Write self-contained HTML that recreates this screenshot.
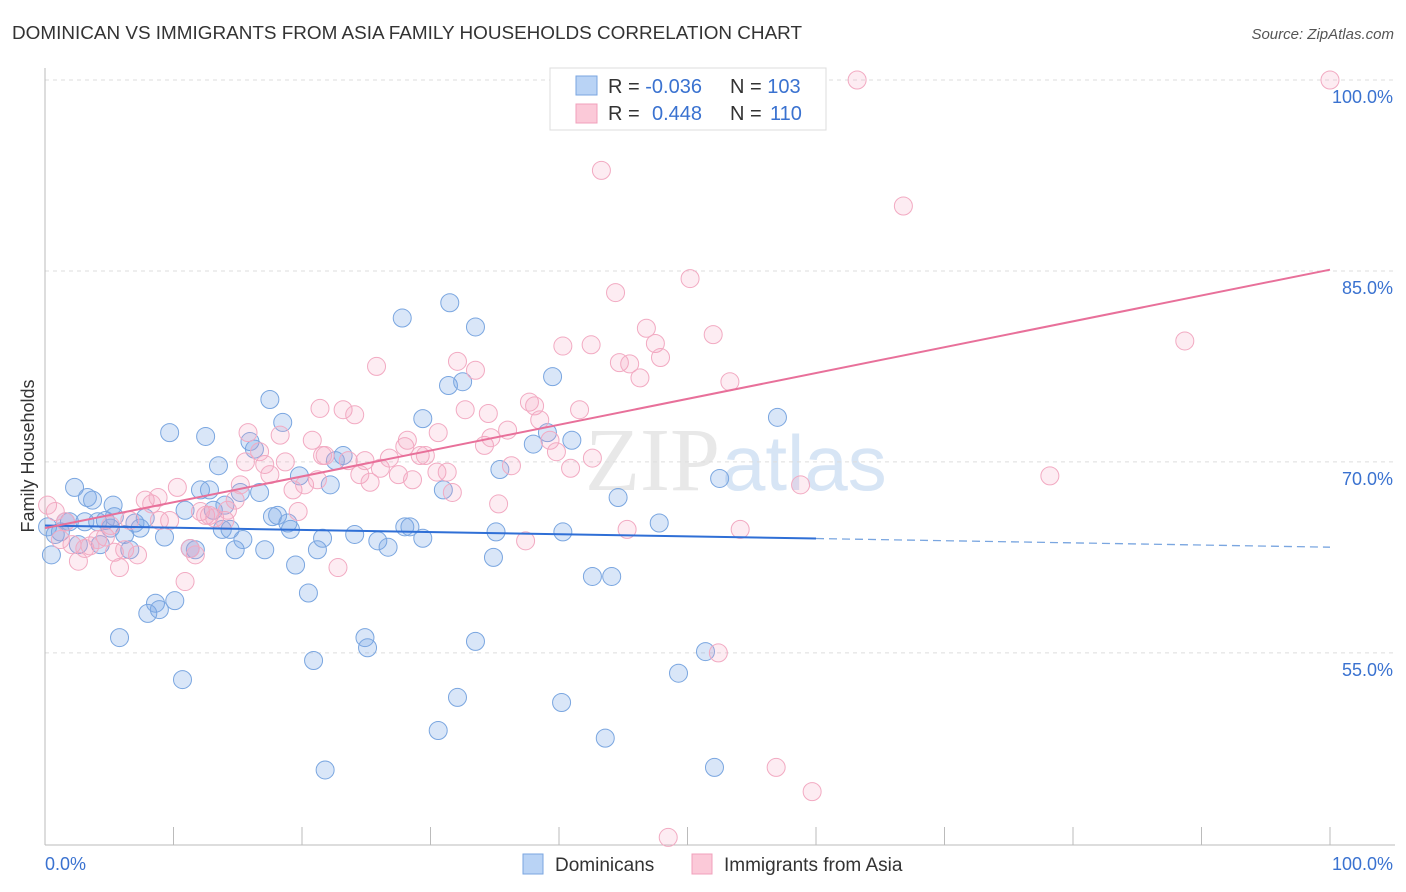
<!DOCTYPE html>
<html><head><meta charset="utf-8"><style>
body{margin:0;background:#fff;font-family:"Liberation Sans",sans-serif;}
svg{display:block}
</style></head><body>
<svg id="chart" width="1406" height="892">
<text x="12" y="39" font-size="18.9" fill="#333">DOMINICAN VS IMMIGRANTS FROM ASIA FAMILY HOUSEHOLDS CORRELATION CHART</text>
<text x="1394" y="39" font-size="15" fill="#555" font-style="italic" text-anchor="end">Source: ZipAtlas.com</text>
<text x="720" y="490" font-size="90" fill="#e8e8e8" text-anchor="end" font-family="Liberation Serif">ZIP</text>
<text x="722" y="490" font-size="78" fill="#d7e5f5">atlas</text>
<g id="grid"></g><g id="axes"></g><g id="pts"></g><g id="trends"></g>
<text transform="translate(34,456) rotate(-90)" font-size="18" fill="#333" text-anchor="middle">Family Households</text>
<g>
<rect x="550" y="68" width="276" height="62" fill="#fff" stroke="#ddd"/>
<rect x="576" y="76" width="21" height="19" fill="#b9d3f5" stroke="#7aa6e0"/>
<rect x="576" y="104" width="21" height="19" fill="#fbc9d8" stroke="#f0a0bb"/>
<text x="608" y="93" font-size="20" fill="#333">R = <tspan fill="#3a72d0">-0.036</tspan></text>
<text x="730" y="93" font-size="20" fill="#333">N = <tspan fill="#3a72d0">103</tspan></text>
<text x="608" y="120" font-size="20" fill="#333">R = <tspan fill="#3a72d0" x="652">0.448</tspan></text>
<text x="730" y="120" font-size="20" fill="#333">N = <tspan fill="#3a72d0" x="770">110</tspan></text>
</g>
<g>
<rect x="523" y="854" width="20" height="20" fill="#b9d3f5" stroke="#7aa6e0"/>
<text x="555" y="871" font-size="19" fill="#333">Dominicans</text>
<rect x="692" y="854" width="20" height="20" fill="#fbc9d8" stroke="#f0a0bb"/>
<text x="724" y="871" font-size="19" fill="#333">Immigrants from Asia</text>
</g>
</svg>
<script>
const yTicks=[100,85,70,55];
const yTickLabels=["100.0%","85.0%","70.0%","55.0%"];
const xTickLabels=["0.0%","100.0%"];
const blueTrend=[65.0,63.3];
const pinkTrend=[64.8,85.1];
const dominicanPoints=[[0.2,64.9],[0.5,62.7],[0.8,64.3],[1.2,64.5],[1.6,65.3],[1.9,65.3],[2.3,68.0],[2.6,63.5],[3.1,65.3],[3.3,67.2],[3.7,67.0],[4.1,65.3],[4.3,63.5],[4.7,65.4],[5.1,64.8],[5.3,66.6],[5.4,65.7],[5.8,56.2],[6.2,64.3],[6.6,63.1],[7.0,65.2],[7.4,64.8],[7.8,65.6],[8.0,58.1],[8.6,58.9],[8.9,58.4],[9.3,64.1],[9.7,72.3],[10.1,59.1],[10.7,52.9],[10.9,66.2],[11.3,63.2],[11.7,63.1],[12.1,67.8],[12.5,72.0],[12.8,67.8],[13.1,66.2],[13.5,69.7],[13.8,64.7],[14.0,66.6],[14.4,64.7],[14.8,63.1],[15.2,67.6],[15.4,63.9],[15.95,71.6],[16.3,71.0],[16.7,67.6],[17.1,63.1],[17.5,74.9],[17.7,65.7],[18.1,65.8],[18.5,73.1],[18.9,65.2],[19.1,64.7],[19.5,61.9],[19.8,68.9],[20.5,59.7],[20.9,54.4],[21.2,63.1],[21.6,64.0],[21.8,45.8],[22.2,68.2],[22.6,70.1],[23.2,70.5],[24.1,64.3],[24.9,56.2],[25.1,55.4],[25.9,63.8],[26.7,63.3],[27.8,81.3],[28.0,64.9],[28.4,64.9],[29.4,64.0],[29.4,73.4],[30.6,48.9],[31.0,67.8],[31.4,76.0],[31.5,82.5],[32.1,51.5],[32.5,76.3],[33.5,80.6],[33.5,55.9],[34.9,62.5],[35.1,64.5],[35.4,69.4],[38.0,71.4],[39.1,72.3],[39.5,76.7],[40.2,51.1],[40.3,64.5],[41.0,71.7],[42.6,61.0],[43.6,48.3],[44.1,61.0],[44.6,67.2],[47.8,65.2],[49.3,53.4],[51.4,55.1],[52.1,46.0],[52.5,68.7],[57.0,73.5]];
const asiaPoints=[[0.2,66.6],[0.8,66.1],[1.2,63.9],[1.6,65.3],[2.1,63.5],[2.6,62.2],[3.1,63.2],[3.5,63.4],[4.1,63.9],[4.7,64.1],[5.1,65.0],[5.4,62.9],[5.8,61.7],[6.2,63.1],[6.6,65.4],[7.2,62.7],[7.8,67.0],[8.3,66.7],[8.8,67.2],[8.9,65.4],[9.7,65.4],[10.3,68.0],[10.9,60.6],[11.3,63.2],[11.7,62.7],[12.1,66.1],[12.5,65.8],[12.8,65.8],[13.2,65.6],[14.0,65.4],[14.2,66.2],[14.8,67.0],[15.2,68.2],[15.6,70.0],[15.8,72.3],[16.7,70.8],[17.1,69.8],[17.5,69.0],[18.3,72.1],[18.7,70.0],[19.3,67.8],[19.7,66.1],[20.2,68.2],[20.8,71.7],[21.2,68.6],[21.4,74.2],[21.6,70.5],[21.8,70.5],[22.8,61.7],[23.2,74.1],[23.6,70.1],[24.1,73.7],[24.5,69.0],[24.9,70.1],[25.3,68.4],[25.8,77.5],[26.1,69.5],[26.8,70.3],[27.5,69.0],[28.0,71.2],[28.2,71.7],[28.6,68.6],[29.2,70.5],[29.6,70.5],[30.5,69.2],[30.6,72.3],[31.3,69.2],[31.7,67.6],[32.1,77.9],[32.7,74.1],[33.5,77.2],[34.2,71.3],[34.5,73.8],[34.7,71.9],[35.3,66.7],[36.0,72.5],[36.3,69.7],[37.4,63.8],[37.7,74.7],[38.1,74.4],[38.5,73.3],[39.3,71.7],[39.8,70.8],[40.3,79.1],[40.9,69.5],[41.6,74.1],[42.5,79.2],[42.6,70.3],[43.3,92.9],[44.4,83.3],[44.7,77.8],[45.3,64.7],[45.5,77.7],[46.3,76.6],[46.8,80.5],[47.5,79.3],[47.9,78.2],[48.5,40.5],[50.2,84.4],[52.0,80.0],[52.4,55.0],[53.3,76.3],[54.1,64.7],[56.9,46.0],[58.8,68.2],[59.7,44.1],[63.2,100],[66.8,90.1],[78.2,68.9],[88.7,79.5],[100,100]];
const NS="http://www.w3.org/2000/svg";
const X=v=>45+v*12.85, Y=v=>80+(100-v)*12.73;
function mk(t,a,p){const e=document.createElementNS(NS,t);for(const k in a)e.setAttribute(k,a[k]);p.appendChild(e);return e;}
const grid=document.getElementById('grid'),axes=document.getElementById('axes'),pts=document.getElementById('pts'),tr=document.getElementById('trends');
yTicks.forEach((v,i)=>{
 const l=mk('line',{x1:45,x2:1395,y1:Y(v),y2:Y(v),stroke:'#ddd','stroke-dasharray':'4,4'},grid);
 
 
 const t=mk('text',{x:1393,y:Y(v)+23,'font-size':18,fill:'#3a72d0','text-anchor':'end'},axes);
 t.textContent=yTickLabels[i];
 
 
});
const ax=mk('line',{x1:45,x2:1395,y1:845,y2:845,stroke:'#bbb'},axes);


const ay=mk('line',{x1:45,x2:45,y1:68,y2:845,stroke:'#bbb'},axes);


for(let i=0;i<=10;i++){const t=mk('line',{x1:X(i*10),x2:X(i*10),y1:827,y2:845,stroke:'#bbb'},axes);
 
 }
const xl0=mk('text',{x:45,y:870,'font-size':18,fill:'#3a72d0'},axes);xl0.textContent=xTickLabels[0];


const xl1=mk('text',{x:1393,y:870,'font-size':18,fill:'#3a72d0','text-anchor':'end'},axes);xl1.textContent=xTickLabels[1];


function draw(arr,fill,stroke,name){arr.forEach(p=>{const c=mk('circle',{cx:X(p[0]),cy:Y(p[1]),r:9,fill:fill,stroke:stroke,'stroke-width':1},pts);
 
 });}
draw(dominicanPoints,'rgba(120,165,230,0.28)','#7aa6e0','dominican-point');
draw(asiaPoints,'rgba(245,160,190,0.2)','#f2aac2','asia-point');
const lerp=(t,f)=>t[0]+(t[1]-t[0])*f/100;
const b1=mk('line',{x1:X(0),y1:Y(lerp(blueTrend,0)),x2:X(60),y2:Y(lerp(blueTrend,60)),stroke:'#2f6fd6','stroke-width':2},tr);


const b2=mk('line',{x1:X(60),y1:Y(lerp(blueTrend,60)),x2:X(100),y2:Y(lerp(blueTrend,100)),stroke:'#7aa6e0','stroke-width':1.3,'stroke-dasharray':'8,5'},tr);


const p1=mk('line',{x1:X(0),y1:Y(pinkTrend[0]),x2:X(100),y2:Y(pinkTrend[1]),stroke:'#e8709a','stroke-width':2},tr);


</script>
</body></html>
